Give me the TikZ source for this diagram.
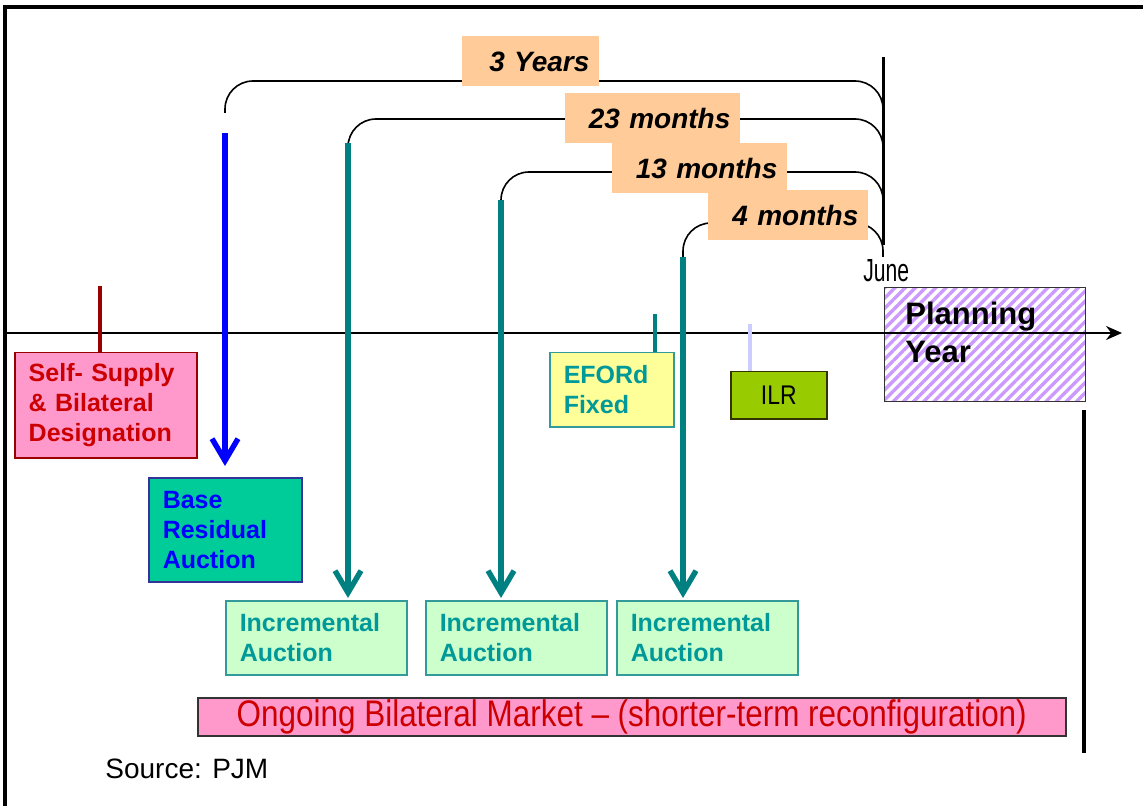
\documentclass[tikz,border=0pt]{standalone}
\usepackage{fontspec}
\setmainfont{Liberation Sans}
\newfontfamily\narrowfont[FakeStretch=0.85]{Liberation Sans}
\newfontfamily\junefont[FakeStretch=0.66]{Liberation Sans}
\usetikzlibrary{arrows.meta,patterns.meta}

\definecolor{sspink}{HTML}{FF99CC}
\definecolor{ssred}{HTML}{CC0000}
\definecolor{ssdark}{HTML}{990000}
\definecolor{brgreen}{HTML}{00CC99}
\definecolor{bredge}{HTML}{333399}
\definecolor{incfill}{HTML}{CCFFCC}
\definecolor{incedge}{HTML}{339999}
\definecolor{inctext}{HTML}{009999}
\definecolor{arrteal}{HTML}{008080}
\definecolor{efyellow}{HTML}{FFFF99}
\definecolor{ilrgreen}{HTML}{99CC00}
\definecolor{ilredge}{HTML}{333300}
\definecolor{ilrstem}{HTML}{CCCCFF}
\definecolor{peach}{HTML}{FFCC99}
\definecolor{hatch}{HTML}{CC99FF}

\begin{document}
\begin{tikzpicture}[x=0.5pt,y=-0.5pt]
    \tikzstyle{tlbox}=[draw, line width=0.75pt, anchor=north west, align=left,
                       inner xsep=7pt, inner ysep=0pt,
                       font=\bfseries\fontsize{12.5}{15}\selectfont]
    \tikzstyle{spanlbl}=[fill=peach, anchor=north west, align=right, inner xsep=5pt,
                         inner ysep=0pt, minimum height=25pt,
                         font=\bfseries\itshape\fontsize{14}{16}\selectfont]
    \tikzstyle{bracket}=[line width=0.8pt, rounded corners=14pt]
    \tikzstyle{auctarrow}=[line width=2.7pt, -{Straight Barb[length=11pt,width=13pt]}]

    \useasboundingbox (0,0) rectangle (1143,806);

    % Frame
    \draw[line width=2pt] (5,806) -- (5,7) -- (1143,7);
    \draw[line width=2pt] (1084,410) -- (1084,753);

    % Boxes along the time line
    \node[tlbox, fill=sspink, draw=ssdark, text=ssred, text width=77pt, minimum height=52.5pt]
        (ssb) at (14,352) {Self- Supply\\\& Bilateral\\Designation};
    \node[tlbox, fill=brgreen, draw=bredge, text=blue, text width=62.5pt, minimum height=52pt]
        (brab) at (148,477) {Base\\Residual\\Auction};
    \node[tlbox, fill=incfill, draw=incedge, text=inctext, text width=76.5pt, minimum height=37pt]
        (inc1) at (225,600) {Incremental\\Auction};
    \node[tlbox, fill=incfill, draw=incedge, text=inctext, text width=76.5pt, minimum height=37pt]
        (inc2) at (425,600) {Incremental\\Auction};
    \node[tlbox, fill=incfill, draw=incedge, text=inctext, text width=76.5pt, minimum height=37pt]
        (inc3) at (616,600) {Incremental\\Auction};
    \node[tlbox, fill=efyellow, draw=incedge, text=inctext, text width=48pt, minimum height=37pt]
        (eford) at (549,352) {EFORd\\Fixed};
    \node[tlbox, fill=ilrgreen, draw=ilredge, text=black, align=center, text width=34pt,
          minimum height=23.5pt, font=\narrowfont\fontsize{13.5}{15}\selectfont]
        (ilr) at (730,371) {ILR};

    % Planning year
    \node[draw=black!80, line width=0.75pt, anchor=north west, inner sep=0pt,
          pattern={Lines[angle=45,distance=3.6pt,line width=1.7pt]}, pattern color=hatch,
          minimum width=100.5pt, minimum height=57pt] (plan) at (883,286) {};

    % Time axis
    \draw[line width=1.1pt, -{Stealth[length=8pt,width=7pt]}] (5,333) -- (1122,333);
    \node[anchor=north west, align=left, inner sep=0pt,
          font=\bfseries\fontsize{15.5}{19}\selectfont] (plantxt) at (905,302) {Planning\\Year};

    % Stems from the boxes up to the axis
    \coordinate (sstop) at (100,286);
    \coordinate (eftop) at (655,314);
    \coordinate (ilrtop) at (750,324);
    \draw[ssdark, line width=1.6pt] (sstop) -- (sstop |- ssb.north);
    \draw[arrteal, line width=2.3pt] (eftop) -- (eftop |- eford.north);
    \draw[ilrstem, line width=1.7pt] (ilrtop) -- (ilrtop |- ilr.north);

    % Lead-time brackets
    \coordinate (t3y) at (225,133);
    \coordinate (t23) at (348,143);
    \coordinate (t13) at (501,200);
    \coordinate (t4) at (683,257);
    \draw[bracket] (225,113) |- (883,81) -- (883,120);
    \draw[bracket] (t23) |- (883,119) -- (883,155);
    \draw[bracket] (t13) |- (883,172) -- (883,205);
    \draw[bracket] (t4) |- (883,223) -- (883,257);
    \draw[line width=1.5pt] (883,57) -- (883,245);
    \node[anchor=base west, inner sep=0pt, font=\junefont\fontsize{16}{18}\selectfont]
        (june) at (863,282) {June};

    \node[spanlbl, text width=58.5pt] (yr3) at (462,36) {3 Years};
    \node[spanlbl, text width=77.5pt] (m23) at (565,93) {23 months};
    \node[spanlbl, text width=77.5pt] (m13) at (612,143) {13 months};
    \node[spanlbl, text width=70pt] (m4) at (708,190) {4 months};

    % Auction arrows
    \draw[auctarrow, blue, shorten >=5.5pt] (t3y) -- (t3y |- brab.north);
    \draw[auctarrow, arrteal, shorten >=1pt] (t23) -- (t23 |- inc1.north);
    \draw[auctarrow, arrteal, shorten >=1pt] (t13) -- (t13 |- inc2.north);
    \draw[auctarrow, arrteal, shorten >=1pt] (t4) -- (t4 |- inc3.north);

    % Bilateral market and source
    \node[draw=black!80, line width=0.75pt, fill=sspink, anchor=north west, inner sep=0pt,
          minimum width=434pt, minimum height=19pt, text=ssred,
          font=\narrowfont\fontsize{18.5}{20}\selectfont]
        (ongoing) at (197,697) {Ongoing Bilateral Market – (shorter-term reconfiguration)};
    \node[anchor=base west, inner sep=0pt, font=\fontsize{14}{16}\selectfont]
        (src) at (105,778) {Source: PJM};
\end{tikzpicture}
\end{document}
